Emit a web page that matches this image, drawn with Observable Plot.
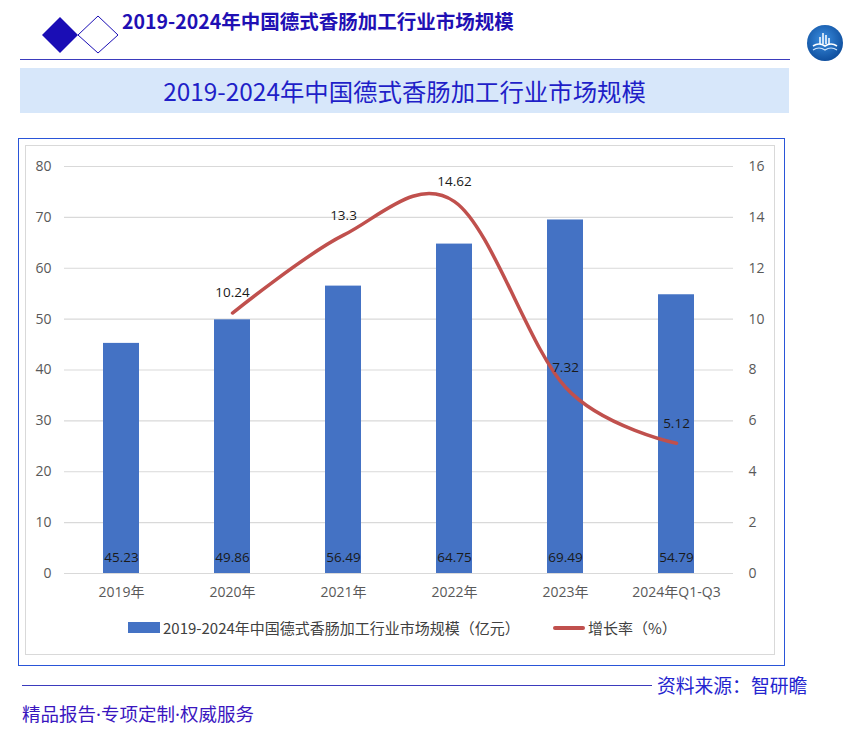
<!DOCTYPE html>
<html><head><meta charset="utf-8">
<script src="https://cdn.jsdelivr.net/npm/d3@7"></script>
<script src="https://cdn.jsdelivr.net/npm/@observablehq/plot@0.6"></script>
<style>
body{margin:0;background:#fff;font-family:"Noto Sans CJK SC","Noto Sans",sans-serif;}
#page{position:relative;width:845px;height:734px;overflow:hidden;background:#fff;}
.abs{position:absolute;}
#htitle{left:122px;top:8px;font-size:19.5px;font-weight:bold;color:#1f10b4;white-space:nowrap;line-height:26px;}
#hline{left:20px;top:59px;width:770px;height:0;border-top:1px solid #3b3bbd;}
#banner{left:20px;top:68px;width:769px;height:45px;background:#d7e7fa;color:#1f1fc8;font-size:24.4px;text-align:center;line-height:45px;white-space:nowrap;}
#outer{left:18px;top:138px;width:767px;height:528px;border:1px solid #2a55d8;box-sizing:border-box;}
#inner{left:25px;top:145px;width:750px;height:510px;border:1px solid #d9d9d9;box-sizing:border-box;}
#plotwrap{left:25px;top:145px;}
.leg{font-size:15px;color:#404040;white-space:nowrap;line-height:20px;}
#source{left:657px;top:672px;font-size:18.8px;color:#2525cf;white-space:nowrap;line-height:26px;}
#sline{left:22px;top:685px;width:630px;border-top:1px solid #3b3bbd;}
#slogan{left:22px;top:700px;font-size:18.5px;color:#3a16bf;white-space:nowrap;line-height:26px;}
.dot{font-family:"Noto Sans",sans-serif;}
</style></head>
<body><div id="page">
<svg class="abs" style="left:0;top:0" width="130" height="60">
  <polygon points="42,35 60,17 78,35 60,53" fill="#1a0db5"/>
  <polygon points="78,35 98,16 118,35 98,53" fill="#fff" stroke="#1a0db5" stroke-width="1"/>
</svg>
<div id="htitle" class="abs">2019-2024年中国德式香肠加工行业市场规模</div>
<svg class="abs" style="left:800px;top:20px" width="45" height="46">
  <defs><radialGradient id="lg" cx="45%" cy="40%" r="60%"><stop offset="0" stop-color="#3b8ee0"/><stop offset="1" stop-color="#0f4f9e"/></radialGradient></defs>
  <circle cx="25" cy="23" r="18" fill="url(#lg)"/>
  <path d="M13,26 Q19,22 25,26 Q31,22 37,26" stroke="#fff" stroke-width="1.6" fill="none"/>
  <path d="M13,30 Q19,26 25,30 Q31,26 37,30" stroke="#cfe6ff" stroke-width="1.2" fill="none"/>
  <path d="M20,24 V17 M23,24 V13 M26,24 V15 M29,24 V18" stroke="#fff" stroke-width="1.5"/>
</svg>
<div id="hline" class="abs"></div>
<div id="banner" class="abs">2019-2024年中国德式香肠加工行业市场规模</div>
<div id="outer" class="abs"></div>
<div id="inner" class="abs"></div>
<div id="plotwrap" class="abs"></div>
<div class="abs" style="left:128px;top:622px;width:32px;height:11px;background:#4472c4"></div>
<div class="abs leg" style="left:163px;top:618px">2019-2024年中国德式香肠加工行业市场规模（亿元）</div>
<div class="abs" style="left:553px;top:626px;width:32px;height:4px;background:#c0504d;border-radius:2px"></div>
<div class="abs leg" style="left:588px;top:618px">增长率（%）</div>
<div id="sline" class="abs"></div>
<div id="source" class="abs">资料来源：智研瞻</div>
<div id="slogan" class="abs">精品报告<span class="dot">·</span>专项定制<span class="dot">·</span>权威服务</div>
</div>
<script>
const years = ["2019年","2020年","2021年","2022年","2023年","2024年Q1-Q3"];
const marketSize = [45.23, 49.86, 56.49, 64.75, 69.49, 54.79];
const growthYears = ["2020年","2021年","2022年","2023年","2024年Q1-Q3"];
const growthRate = [10.24, 13.3, 14.62, 7.32, 5.12];
const leftTicks = [0,10,20,30,40,50,60,70,80];
const rightTicks = [0,2,4,6,8,10,12,14,16];
const ratio = 5; // left 80 <-> right 16

const bars = years.map((y,i)=>({year:y, value:marketSize[i]}));
const growth = growthYears.map((y,i)=>({year:y, rate:growthRate[i]}));

const chart = Plot.plot({
  width: 750, height: 460,
  marginTop: 21, marginBottom: 32, marginLeft: 39, marginRight: 42,
  x: {domain: years, paddingInner: 0.68, paddingOuter: 0.34, label: null},
  y: {domain: [0, 80], label: null},
  style: {fontFamily: "'Open Sans','Noto Sans CJK SC',sans-serif", fontSize: "14px", color: "#595959", background: "transparent", overflow: "visible"},
  marks: [
    Plot.gridY(leftTicks, {stroke: "#d9d9d9", strokeOpacity: 1, strokeWidth: 1.2}),
    Plot.axisY(leftTicks, {anchor: "left", tickSize: 0, tickPadding: 13, label: null}),
    Plot.axisY(rightTicks.map(d => d * ratio), {anchor: "right", tickSize: 0, tickPadding: 15, tickFormat: d => d / ratio, label: null}),
    Plot.axisX({tickSize: 0, tickPadding: 14, label: null}),
    Plot.barY(bars, {x: "year", y: "value", fill: "#4472c4"}),
    Plot.text(bars, {x: "year", y: 0, text: d => d.value.toFixed(2), dy: -16, fill: "#1a1a1a", fontSize: 13.5}),
    Plot.line(growth, {x: "year", y: d => d.rate * ratio, stroke: "#c0504d", strokeWidth: 3.5, curve: "cardinal"}),
    Plot.text(growth, {x: "year", y: d => d.rate * ratio, text: d => String(d.rate), dy: -20, fill: "#1a1a1a", fontSize: 13.5})
  ]
});
document.getElementById("plotwrap").appendChild(chart);
</script>
</body></html>
